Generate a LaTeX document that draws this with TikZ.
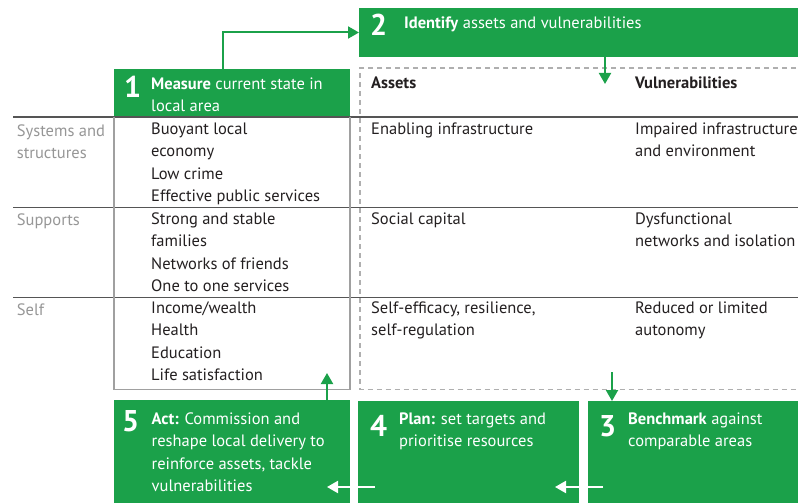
\documentclass[tikz,border=0pt]{standalone}
\usepackage{fontspec}
\setmainfont{PT Sans}
\usetikzlibrary{arrows.meta}
\definecolor{grn}{RGB}{27,161,74}
\definecolor{txt}{RGB}{35,31,32}
\definecolor{lbl}{RGB}{150,150,150}
\definecolor{rulec}{RGB}{85,85,85}
\definecolor{boxln}{RGB}{160,160,160}
\definecolor{dashc}{RGB}{175,175,175}
\newcommand{\mylines}[1]{\begin{tabular}[t]{@{}l@{}}#1\end{tabular}}
\begin{document}
\begin{tikzpicture}[x=1pt,y=-1pt,
  gbox/.style={fill=grn, draw=none, inner sep=0, outer sep=0, anchor=north west},
  num/.style={text=white, font=\fontsize{30}{30}\selectfont\bfseries, inner sep=0, anchor=base west},
  wtxt/.style={text=white, font=\fontsize{16.5}{22.4}\selectfont, inner sep=0, anchor=base west},
  btxt/.style={text=txt, font=\fontsize{16.5}{22.4}\selectfont, inner sep=0, anchor=base west},
  ltxt/.style={text=lbl, font=\fontsize{16.5}{22.4}\selectfont, inner sep=0, anchor=base west},
  rowline/.style={draw=rulec, line width=1.4pt},
  garrow/.style={draw=grn, line width=2pt, -{Triangle[length=11pt,width=12pt]}},
  warrow/.style={draw=white, line width=2pt, -{Triangle[length=11pt,width=12pt]}},
]
\useasboundingbox (0,0) rectangle (798,503);
\clip (0,0) rectangle (798,503);

% green boxes
\node[gbox, minimum width=236pt, minimum height=48pt] (b1) at (114,69) {};
\node[gbox, minimum width=445pt, minimum height=49pt] (b2) at (359,8) {};
\node[gbox, minimum width=236pt, minimum height=110pt] (b5) at (114,400) {};
\node[gbox, minimum width=221pt, minimum height=110pt] (b4) at (358,401) {};
\node[gbox, minimum width=215pt, minimum height=110pt] (b3) at (588,401) {};

% table rules
\draw[rowline] (13,117) -- (798,117);
\draw[rowline] (13,207.5) -- (798,207.5);
\draw[rowline] (13,297.5) -- (798,297.5);
\draw[draw=boxln, line width=1.2pt] (114,117) -- (114,389.5) -- (350,389.5) -- (350,117);
\draw[draw=dashc, line width=1.2pt, dash pattern=on 5pt off 4pt] (805,68) -- (360,68) -- (360,389.5) -- (805,389.5);

% box texts
\node[num] (n1) at (124,98) {1};
\node[wtxt] (t1) at (151,89) {\mylines{\textbf{Measure} current state in\\local area}};
\node[num] (n2) at (370,36) {2};
\node[wtxt] (t2) at (404,29) {\textbf{Identify} assets and vulnerabilities};
\node[num] (n5) at (122,431) {5};
\node[wtxt] (t5) at (151.5,424.3) {\mylines{\textbf{Act:} Commission and\\reshape local delivery to\\reinforce assets, tackle\\vulnerabilities}};
\node[num] (n4) at (370,436) {4};
\node[wtxt] (t4) at (399,424.3) {\mylines{\textbf{Plan:} set targets and\\prioritise resources}};
\node[num] (n3) at (599,436) {3};
\node[wtxt] (t3) at (628,424.3) {\mylines{\textbf{Benchmark} against\\comparable areas}};

% headers
\node[btxt] (hA) at (371,88.3) {\textbf{Assets}};
\node[btxt] (hV) at (635,88.3) {\textbf{Vulnerabilities}};

% row labels
\node[ltxt] (r1) at (16.7,136.5) {\mylines{Systems and\\structures}};
\node[ltxt] (r2) at (16.7,225.7) {Supports};
\node[ltxt] (r3) at (16.7,315) {Self};

% column 1
\node[btxt] (c11) at (151,134.3) {\mylines{Buoyant local\\economy\\Low crime\\Effective public services}};
\node[btxt] (c12) at (151,224.3) {\mylines{Strong and stable\\families\\Networks of friends\\One to one services}};
\node[btxt] (c13) at (151,313.3) {\mylines{Income/wealth\\Health\\Education\\Life satisfaction}};

% assets
\node[btxt] (a1) at (371,134.3) {Enabling infrastructure};
\node[btxt] (a2) at (371,224.3) {Social capital};
\node[btxt] (a3) at (371,313.3) {\mylines{Self-efficacy, resilience,\\self-regulation}};

% vulnerabilities
\node[btxt] (v1) at (635,134.3) {\mylines{Impaired infrastructure\\and environment}};
\node[btxt] (v2) at (635,224.3) {\mylines{Dysfunctional\\networks and isolation}};
\node[btxt] (v3) at (635,313.3) {\mylines{Reduced or limited\\autonomy}};

% connectors
\coordinate (p2) at (605,84);
\coordinate (p3) at (612,372);
\coordinate (p5) at (327,373);
\coordinate (w3) at (603,487);
\coordinate (w4end) at (555,487);
\coordinate (w4) at (375,487);
\coordinate (w5end) at (327,487);

\draw[garrow] ([xshift=-8.7pt]b1.north) |- (b2.west);
\draw[garrow] (p2 |- b2.south) -- (p2);
\draw[garrow] (p3) -- (p3 |- b3.north);
\draw[garrow] (p5 |- b5.north) -- (p5);
\draw[warrow] (w3) -- (w4end);
\draw[warrow] (w4) -- (w5end);
\end{tikzpicture}
\end{document}
